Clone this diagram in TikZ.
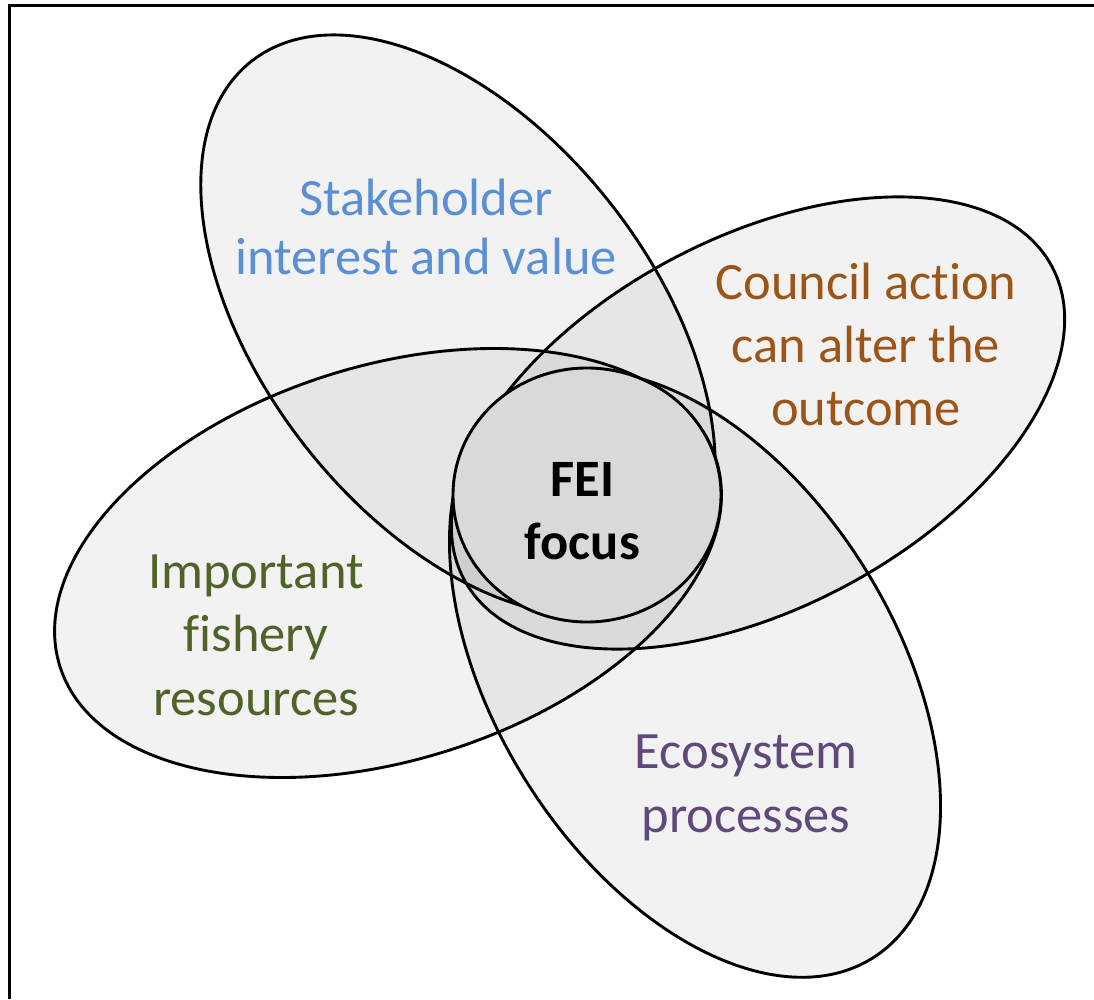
\documentclass[tikz,border=0pt]{standalone}
\usepackage{fontspec}
\setmainfont{Carlito}[Ligatures=NoCommon]
\definecolor{stakeblue}{HTML}{5B8FD3}
\definecolor{councilbrown}{HTML}{9C5518}
\definecolor{fishgreen}{HTML}{4F6228}
\definecolor{ecopurple}{HTML}{5F497A}
\definecolor{focusgray}{HTML}{D9D9D9}
\tikzset{
  petal/.style={draw=black, line width=2.9pt, fill=black, fill opacity=0.05},
  focusshape/.style={draw=black, line width=2.9pt, fill=focusgray},
  lbl/.style={align=center, anchor=base, inner sep=0pt, font=\fontsize{52.5}{63}\selectfont},
  frameline/.style={draw=black, line width=3pt}
}
\begin{document}
\begin{tikzpicture}[x=1pt,y=1pt]
\useasboundingbox (0,0) rectangle (1094,999);
\draw[frameline] (9.5,0) -- (9.5,993.5) -- (1094,993.5);
% petals
\path[petal, rotate around={-52:(458,674)}] (458,674) ellipse [x radius=335pt, y radius=195pt];
\path[petal, rotate around={28:(758,576)}] (758,576) ellipse [x radius=333pt, y radius=185pt];
\path[petal, rotate around={17.5:(388,436)}] (388,436) ellipse [x radius=344pt, y radius=197pt];
\path[petal, rotate around={-58:(695,325)}] (695,325) ellipse [x radius=335pt, y radius=200pt];
% focus
\path[focusshape] (587,504) ellipse [x radius=134pt, y radius=127pt];
% labels (base anchor = baseline of the last line)
\node[lbl, text=stakeblue, font=\fontsize{52.5}{59}\selectfont] (stake) at (426,724) {Stakeholder\\interest and value};
\node[lbl, text=councilbrown] (council) at (866,573) {Council action\\can alter the\\outcome};
\node[lbl, text=fishgreen] (fish) at (256,284) {Important\\fishery\\resources};
\node[lbl, text=ecopurple, font=\fontsize{52.5}{64}\selectfont] (eco) at (746,167) {Ecosystem\\processes};
\node[lbl, text=black, font=\fontsize{52.5}{63}\selectfont\bfseries] (fei) at (582.5,439) {FEI\\focus};
\end{tikzpicture}
\end{document}
